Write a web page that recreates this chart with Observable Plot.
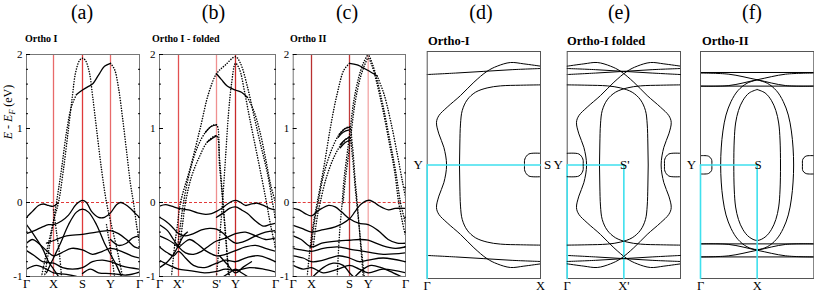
<!DOCTYPE html>
<html><head><meta charset="utf-8">
<script src="https://cdn.jsdelivr.net/npm/d3@7"></script>
<script src="https://cdn.jsdelivr.net/npm/@observablehq/plot@0.6"></script>
<style>
body{margin:0;background:#fff;}
#wrap{position:relative;width:814px;height:293px;overflow:hidden;background:#fff;font-family:"Liberation Serif","Times New Roman",serif;}
#wrap > svg, #wrap > div{position:absolute;top:0;}
</style></head><body><div id="wrap"></div>
<script>
// ---------- tick labels ----------
const energyTicks = [-1, 0, 1, 2];
const minorTicks = [-0.8,-0.6,-0.4,-0.2,0.2,0.4,0.6,0.8,1.2,1.4,1.6,1.8];
const aTicks = [0, 27, 56, 84, 113];
const aLabels = ["Γ", "X", "S", "Y", "Γ"];
const bTicks = [0, 19, 57, 76, 116];
const bLabels = ["Γ", "X'", "S'", "Y", "Γ"];
const cTicks = [0, 18.3, 56.3, 75, 112.3];
const cLabels = ["Γ", "X", "S", "Y", "Γ"];
const panelLetters = ["(a)", "(b)", "(c)", "(d)", "(e)", "(f)"];
const panelNames = ["Ortho I", "Ortho I - folded", "Ortho II", "Ortho-I", "Ortho-I folded", "Ortho-II"];

// ---------- (a) Ortho I bands [k, E (eV)] ----------
const aD1 = [[15,-1],[22,-0.55],[28,-0.2],[32,0],[37,0.45],[42,1.0],[46,1.45],[49,1.75],[53,1.92],[56,1.95],[59,1.92],[63,1.75],[66,1.45],[70,1.0],[75,0.45],[80,0],[84,-0.25],[90,-0.6],[96,-1]];
const aD2 = [[18,-1],[24,-0.5],[30,0],[35,0.45],[40,0.95],[45,1.3],[50,1.46]];
const aD3 = [[84,1.88],[88,1.8],[92,1.55],[96,1.15],[100,0.7],[104,0.25],[107,0],[110,-0.3],[113,-0.55]];
const aD4 = [[27,-0.1],[30,-0.4],[33,-0.7],[35,-1]];
const aD5 = [[80,-0.3],[83,-0.55],[86,-0.8],[88,-1]];
const aS0 = [[50,1.46],[56,1.52],[62,1.57],[66,1.6],[72,1.72],[78,1.84],[84,1.88]];
const aS1 = [[0,-0.2],[6,-0.12],[12,-0.04],[17,-0.02],[22,-0.04],[27,-0.05],[31,-0.01]];
const aS2 = [[0,-0.42],[8,-0.38],[16,-0.33],[22,-0.3],[27,-0.3],[35,-0.25],[42,-0.17],[50,-0.02],[56,0.03],[60,0.0],[65,-0.12],[72,-0.2],[78,-0.2],[84,-0.14],[90,-0.03],[94,0.0],[98,-0.02],[104,-0.08],[109,-0.15],[113,-0.2]];
const aS3 = [[20,-0.95],[27,-0.75],[34,-0.55],[42,-0.3],[50,-0.13],[56,-0.09],[62,-0.13],[70,-0.3],[78,-0.55],[84,-0.7],[90,-0.85],[95,-1]];
const aS4 = [[20,-0.55],[30,-0.5],[40,-0.45],[56,-0.43],[70,-0.4],[84,-0.38],[92,-0.42],[100,-0.5],[108,-0.6],[113,-0.62]];
const aS5 = [[0,-0.55],[6,-0.5],[12,-0.55],[20,-0.65],[27,-0.72],[35,-0.68],[45,-0.62],[56,-0.64],[66,-0.7],[76,-0.66],[84,-0.62],[95,-0.66],[105,-0.72],[113,-0.75]];
const aS6 = [[0,-0.65],[8,-0.72],[16,-0.8],[27,-0.82],[36,-0.88],[46,-0.9],[56,-0.88],[66,-0.8],[76,-0.78],[84,-0.8],[96,-0.86],[113,-0.9]];
const aS7 = [[0,-0.9],[10,-0.85],[20,-0.9],[27,-0.95],[40,-0.97],[50,-1]];
const aS8 = [[56,-0.96],[64,-0.9],[72,-0.95],[84,-0.96],[100,-0.98],[113,-0.94]];
const aS9 = [[0,-0.3],[8,-0.45],[16,-0.62],[22,-0.8],[27,-0.9],[32,-1]];
const aS10 = [[84,-0.5],[92,-0.58],[100,-0.55],[106,-0.48],[113,-0.45]];

// ---------- (b) Ortho I folded bands ----------
const bD1 = [[12,-1],[15,-0.6],[18,-0.3],[21,0],[31,0.48],[41,1.02],[49,1.47],[57,1.74],[66,1.86],[76,1.97],[81,1.88],[88,1.56],[94,1.2],[101,0.79],[108,0.39],[113,0],[116,-0.22]];
const bD2 = [[57,-1],[60,-0.5],[63,0],[66,0.6],[69,1.2],[72,1.6],[76,1.88],[80,1.8],[85,1.5],[90,1.15],[96,0.75],[102,0.35],[107,0],[111,-0.3],[116,-0.6]];
const bD3 = [[18,-0.6],[21,-0.3],[24,0],[30,0.4],[38,0.75],[46,0.95],[52,1.03],[57,1.05],[60,0.6],[63,0.1],[66,-0.4],[69,-0.9],[70,-1]];
const bD4 = [[20,-0.6],[23,-0.3],[26,0],[32,0.35],[40,0.62],[48,0.82],[57,0.9],[60,0.5],[63,0.05],[66,-0.45],[68,-0.8],[69,-1]];
const bD5 = [[88,1.42],[94,1.25],[100,0.98],[106,0.6],[111,0.25],[116,0.0]];
const bS0 = [[57,1.74],[62,1.66],[68,1.57],[76,1.52],[82,1.49],[88,1.42]];
const bS0b = [[46,0.95],[52,1.03],[57,1.05]];
const bS0c = [[48,0.82],[53,0.87],[57,0.9]];
const bS1 = [[0,-0.05],[6,-0.03],[12,-0.05],[19,-0.08],[29,-0.1],[38,-0.14],[46,-0.16],[52,-0.15],[57,-0.12],[62,-0.08],[68,-0.02],[73,0.02],[76,0.03],[80,0.01],[86,-0.04],[92,-0.02],[98,-0.01],[104,-0.04],[110,-0.08],[116,-0.1]];
const bS2 = [[57,-0.2],[64,-0.14],[70,-0.08],[76,-0.06],[82,-0.1],[88,-0.15],[96,-0.25],[104,-0.32],[110,-0.3],[116,-0.28]];
const bS4 = [[0,-0.2],[6,-0.25],[12,-0.32],[19,-0.42],[26,-0.45],[34,-0.42],[42,-0.37],[50,-0.35],[57,-0.36],[64,-0.42],[70,-0.5],[76,-0.55],[86,-0.52],[96,-0.45],[106,-0.4],[116,-0.38]];
const bS5 = [[0,-0.3],[8,-0.38],[14,-0.5],[19,-0.6],[26,-0.68],[34,-0.7],[42,-0.66],[50,-0.58],[57,-0.52],[66,-0.48],[76,-0.42],[86,-0.4],[96,-0.45],[106,-0.5],[116,-0.48]];
const bS6 = [[0,-0.45],[8,-0.5],[14,-0.55],[19,-0.6],[24,-0.55],[30,-0.5],[38,-0.56],[46,-0.65],[57,-0.72],[66,-0.7],[76,-0.65],[86,-0.6],[96,-0.58],[106,-0.62],[116,-0.66]];
const bS7 = [[0,-0.6],[8,-0.68],[14,-0.72],[19,-0.66],[26,-0.75],[34,-0.85],[45,-0.88],[57,-0.82],[66,-0.78],[76,-0.8],[88,-0.74],[100,-0.72],[116,-0.8]];
const bS8 = [[0,-0.78],[10,-0.85],[19,-0.9],[30,-0.92],[45,-0.95],[57,-0.93],[66,-0.9],[76,-0.92],[90,-0.88],[104,-0.9],[116,-0.94]];
const bS9 = [[0,-0.88],[8,-0.8],[14,-0.7],[19,-0.58],[24,-0.45],[28,-0.4]];
const bS10 = [[60,-0.72],[68,-0.84],[76,-0.95],[84,-0.87],[92,-0.8]];
const bS11 = [[64,-1],[70,-0.95],[76,-0.9],[82,-0.95],[88,-1]];

// ---------- (c) Ortho II bands ----------
const cD1 = [[14,-1],[17,-0.6],[20,-0.3],[24,0],[30.7,0.48],[37.3,1.02],[44,1.47],[50.7,1.79],[56.3,1.88]];
const cD1b = [[84,1.71],[90.7,1.47],[97.3,1.11],[104,0.66],[109,0.3],[112.3,0.07]];
const cD2 = [[44,-1],[45.5,-0.6],[47,-0.3],[49,0],[50.7,0.3],[54,0.66],[57.3,1.02],[60.7,1.38],[65.7,1.7],[70.7,1.9],[75,1.99],[79,1.88],[84,1.65],[90.7,1.25],[97.3,0.79],[102.3,0.43],[107.3,0],[110.7,-0.2],[112.3,-0.3]];
const cD2b = [[50,0],[52,0.3],[55.5,0.66],[58.5,1.0],[62,1.36],[67,1.68],[71.5,1.86],[75,1.95],[78.5,1.86],[83,1.65],[89.7,1.25],[96.3,0.79],[101.3,0.43],[105.5,0],[109,-0.25],[112.3,-0.45]];
const cD3 = [[18,-0.6],[22,-0.2],[25,0],[30,0.35],[38,0.7],[46,0.92],[52,1.0],[56.3,1.02],[59,0.8],[62,0.3],[64,0],[67,-0.5],[70,-1]];
const cD4 = [[20,-0.6],[24,-0.2],[27,0],[33,0.33],[41,0.62],[49,0.8],[56.3,0.88],[59,0.65],[62,0.2],[65,-0.2],[68,-0.6],[71,-1]];
const cS0 = [[56.3,1.88],[64,1.86],[74,1.79],[84,1.71]];
const cSp1 = [[46,0.92],[52,1.0],[56.3,1.02]];
const cSp2 = [[45,0.88],[50,0.95],[56.3,0.98]];
const cSp3 = [[47,0.78],[52,0.85],[56.3,0.88]];
const cSp4 = [[47,0.74],[52,0.81],[56.3,0.84]];
const cS1 = [[0,-0.08],[6,-0.1],[12,-0.15],[18.3,-0.18],[24,-0.12],[28.6,-0.08],[35.3,-0.04],[42,-0.06],[48.6,-0.13],[56.3,-0.22],[65.3,-0.28],[75,-0.3],[85,-0.38],[95,-0.5],[104,-0.55],[112.3,-0.55]];
const cS2 = [[0,-0.31],[8.6,-0.35],[18.3,-0.4],[28.6,-0.37],[42,-0.33],[56.3,-0.22],[62,-0.12],[68,-0.02],[75,0.03],[80,0.01],[85.3,-0.04],[95.3,-0.1],[102,-0.08],[112.3,-0.08]];
const cS3 = [[0,-0.45],[8,-0.5],[18.3,-0.6],[28.6,-0.55],[45.3,-0.52],[56.3,-0.51],[67,-0.5],[75,-0.51],[88.6,-0.58],[102,-0.62],[112.3,-0.6]];
const cS4 = [[0,-0.62],[8,-0.64],[18.3,-0.66],[30,-0.62],[45,-0.6],[56.3,-0.63],[66,-0.65],[75,-0.67],[90,-0.7],[112.3,-0.68]];
const cS5 = [[0,-0.72],[10,-0.75],[18.3,-0.8],[30,-0.78],[45,-0.72],[56.3,-0.75],[66,-0.8],[75,-0.78],[90,-0.75],[112.3,-0.8]];
const cS6 = [[0,-0.85],[10,-0.9],[18.3,-0.88],[30,-0.95],[45,-0.9],[56.3,-0.85],[66,-0.9],[75,-0.95],[90,-0.9],[112.3,-0.95]];
const cS7 = [[20,-1],[30,-0.88],[40,-0.82],[50,-0.85],[56.3,-0.95],[60,-1]];
const cS8 = [[62,-1],[70,-0.9],[78,-0.85],[88,-0.88],[100,-0.95],[108,-1]];

// ---------- (d) Ortho-I Fermi surface [kx/π, ky/π] ----------
const dTop = [[0,1.797],[0.25,1.81],[0.5,1.825],[0.75,1.84],[1,1.85]];
const dBottom = [[0,0.203],[0.25,0.19],[0.5,0.175],[0.75,0.16],[1,0.15]];
const dOuter = [[1,1.871],[0.853,1.891],[0.735,1.903],[0.618,1.871],[0.529,1.826],[0.412,1.729],[0.294,1.612],[0.176,1.509],[0.103,1.435],[0.082,1.376],[0.103,1.274],[0.147,1.156],[0.171,1.0],[0.147,0.844],[0.103,0.726],[0.082,0.624],[0.103,0.565],[0.176,0.491],[0.294,0.388],[0.412,0.271],[0.529,0.174],[0.618,0.129],[0.735,0.097],[0.853,0.109],[1,0.129]];
const dInner = [[1,1.706],[0.824,1.703],[0.647,1.697],[0.529,1.679],[0.426,1.641],[0.353,1.574],[0.309,1.479],[0.294,1.362],[0.288,1.185],[0.285,1.0],[0.288,0.815],[0.294,0.638],[0.309,0.521],[0.353,0.426],[0.426,0.359],[0.529,0.321],[0.647,0.303],[0.824,0.297],[1,0.294]];
const dPocket = [[1,1.103],[0.897,1.097],[0.862,1.053],[0.859,1.0],[0.862,0.947],[0.897,0.903],[1,0.897]];

// ---------- (f) Ortho-II Fermi surface ----------
const fFlat1 = [[0,1.815],[1,1.815]];
const fFlat2 = [[0,1.695],[1,1.695]];
const fCross1 = [[0,1.81],[0.25,1.8],[0.5,1.751],[0.75,1.7],[1,1.695]];
const fCross2 = [[0,1.695],[0.25,1.7],[0.5,1.751],[0.75,1.8],[1,1.81]];
const fFlat3 = [[0,0.305],[1,0.305]];
const fFlat4 = [[0,0.19],[1,0.19]];
const fCross3 = [[0,0.19],[0.25,0.2],[0.5,0.249],[0.75,0.3],[1,0.305]];
const fCross4 = [[0,0.305],[0.25,0.3],[0.5,0.249],[0.75,0.2],[1,0.19]];
const fOuter = [[0.5,1.75],[0.41,1.72],[0.33,1.655],[0.27,1.56],[0.225,1.44],[0.198,1.3],[0.183,1.15],[0.178,1.0],[0.183,0.85],[0.198,0.7],[0.225,0.56],[0.27,0.44],[0.33,0.345],[0.41,0.28],[0.5,0.255],[0.59,0.28],[0.67,0.345],[0.73,0.44],[0.775,0.56],[0.802,0.7],[0.817,0.85],[0.822,1.0],[0.817,1.15],[0.802,1.3],[0.775,1.44],[0.73,1.56],[0.67,1.655],[0.59,1.72],[0.5,1.75]];
const fInner = [[0.5,1.665],[0.43,1.635],[0.375,1.57],[0.335,1.48],[0.31,1.37],[0.298,1.22],[0.294,1.0],[0.298,0.78],[0.31,0.63],[0.335,0.52],[0.375,0.43],[0.43,0.365],[0.5,0.335],[0.57,0.365],[0.625,0.43],[0.665,0.52],[0.69,0.63],[0.702,0.78],[0.706,1.0],[0.702,1.22],[0.69,1.37],[0.665,1.48],[0.625,1.57],[0.57,1.635],[0.5,1.665]];
const fPocketL = [[0,1.082],[0.07,1.078],[0.097,1.05],[0.1,1.0],[0.097,0.95],[0.07,0.925],[0,0.921]];
const fPocketR = [[1,1.082],[0.93,1.078],[0.903,1.05],[0.9,1.0],[0.903,0.95],[0.93,0.925],[1,0.921]];

// high-symmetry paths (cyan) and point labels
const dPath = [[[0,1],[1,1]], [[0,0],[0,1]]];
const ePath = [[[0,1],[0.5,1],[0.5,0]], [[0,0],[0,1]]];
const dTicks = [0, 1], dTickLabels = ["Γ", "X"];
const eTicks = [0, 0.5], eTickLabels = ["Γ", "X'"];
const fTickLabels = ["Γ", "X"];
const dPoints = [{name:"Y", kx:0, ky:1, side:"left"}, {name:"S", kx:1, ky:1, side:"right"}];
const ePoints = [{name:"Y", kx:0, ky:1, side:"left"}, {name:"S'", kx:0.5, ky:1, side:"center"}];
const fPoints = [{name:"Y", kx:0, ky:1, side:"left"}, {name:"S", kx:0.5, ky:1, side:"center"}];

// ---------- drawing ----------
const wrap = document.getElementById("wrap");
const FONT = "Liberation Serif, Times New Roman, serif";

function place(el, left) { el.style.left = left + "px"; el.style.position = "absolute"; el.style.top = "0px"; wrap.appendChild(el); }

function bandPanel(o) {
  const fmt = d => o.labels[o.ticks.indexOf(d)];
  const inner = o.ticks.slice(1, -1);
  const dotOpts = {stroke:"#000", strokeWidth:1.5, strokeDasharray:"0.1,2.5", strokeLinecap:"round", curve:"catmull-rom", clip:true};
  const solOpts = {stroke:"#000", strokeWidth:1.3, curve:"catmull-rom", clip:true};
  return Plot.plot({
    width: o.width, height: 293,
    marginLeft: o.ml, marginRight: o.mr, marginTop: 54, marginBottom: 17,
    x: {domain: [0, o.ticks[o.ticks.length - 1]]},
    y: {domain: [-1, 2]},
    style: {background: "transparent", overflow: "visible", fontFamily: FONT, color: "#000"},
    marks: [
      Plot.ruleY([0], {stroke: "#e23a3a", strokeWidth: 1, strokeDasharray: "3,2"}),
      ...inner.map((k, i) => Plot.ruleX([k], {stroke: o.ruleColors[i], strokeWidth: 1.3})),
      ...o.dotted.map(b => Plot.line(b, dotOpts)),
      ...o.solid.map(b => Plot.line(b, solOpts)),
      Plot.frame({stroke: "#777", strokeWidth: 1}),
      Plot.axisX({ticks: o.ticks, tickFormat: fmt, tickSize: 0, tickPadding: 3, fontSize: 12.5, label: null}),
      Plot.axisY({ticks: energyTicks, tickFormat: d => String(d), tickSize: 0, tickPadding: 4, fontSize: 11, label: null}),
      Plot.axisY({ticks: energyTicks, tickFormat: () => "", tickSize: -4, label: null}),
      Plot.axisY({ticks: minorTicks, tickFormat: () => "", tickSize: -2, label: null}),
      Plot.axisY({anchor: "right", ticks: minorTicks, tickFormat: () => "", tickSize: -2, label: null})
    ]
  });
}

function fsPanel(o) {
  const fmt = d => o.tickLabels[o.ticks.indexOf(d)];
  const lineOpts = {stroke: "#000", strokeWidth: 1, curve: "catmull-rom"};
  const marks = o.overlay ? o.curves.map(c => Plot.line(c, lineOpts)) : [
    ...o.curves.map(c => Plot.line(c, lineOpts)),
    Plot.frame({stroke: "#555", strokeWidth: 1}),
    ...o.path.map(p => Plot.line(p, {stroke: "#3fe0ee", strokeWidth: 1.6})),
    Plot.axisX({ticks: o.ticks, tickFormat: fmt, tickSize: 0, tickPadding: 3, fontSize: 12.5, label: null}),
    Plot.text(o.points.filter(p => p.side === "left"), {x: "kx", y: "ky", text: "name", dx: -9, fontSize: 13}),
    Plot.text(o.points.filter(p => p.side === "right"), {x: "kx", y: "ky", text: "name", dx: 7, fontSize: 13}),
    Plot.text(o.points.filter(p => p.side === "center"), {x: "kx", y: "ky", text: "name", dx: 1, fontSize: 13})
  ];
  return Plot.plot({
    width: o.width, height: 293,
    marginLeft: o.ml, marginRight: o.mr, marginTop: 51, marginBottom: 15,
    x: {domain: [0, 1], reverse: !!o.reverse, axis: o.overlay ? null : undefined},
    y: {domain: [0, 2], axis: null},
    style: {background: "transparent", overflow: "visible", fontFamily: FONT, color: "#000"},
    marks
  });
}

place(bandPanel({width: 145, ml: 26, mr: 6, ticks: aTicks, labels: aLabels,
  ruleColors: ["#e86a6a", "#e03a3a", "#e86a6a"],
  dotted: [aD1, aD2, aD3, aD4, aD5],
  solid: [aS0, aS1, aS2, aS3, aS4, aS5, aS6, aS7, aS8, aS9, aS10]}), 0);

place(bandPanel({width: 140, ml: 19, mr: 5, ticks: bTicks, labels: bLabels,
  ruleColors: ["#e25050", "#ef9090", "#c82a2a"],
  dotted: [bD1, bD2, bD3, bD4, bD5],
  solid: [bS0, bS0b, bS0c, bS1, bS2, bS4, bS5, bS6, bS7, bS8, bS9, bS10, bS11]}), 140);

place(bandPanel({width: 135, ml: 17.7, mr: 5, ticks: cTicks, labels: cLabels,
  ruleColors: ["#b83030", "#c03a3a", "#f2a6a6"],
  dotted: [cD1, cD1b, cD2, cD2b, cD3, cD4],
  solid: [cS0, cSp1, cSp2, cSp3, cSp4, cS1, cS2, cS3, cS4, cS5, cS6, cS7, cS8]}), 275);

const dCurves = [dTop, dBottom, dOuter, dInner, dPocket];
place(fsPanel({width: 140, ml: 16.7, mr: 10, curves: dCurves, path: dPath, ticks: dTicks, tickLabels: dTickLabels, points: dPoints}), 410);
place(fsPanel({width: 137, ml: 16.7, mr: 7, curves: dCurves, path: ePath, ticks: eTicks, tickLabels: eTickLabels, points: ePoints}), 550);
place(fsPanel({width: 137, ml: 16.7, mr: 7, curves: dCurves, overlay: true, reverse: true}), 550);
place(fsPanel({width: 134, ml: 20, mr: 0.7,
  curves: [fFlat1, fFlat2, fCross1, fCross2, fFlat3, fFlat4, fCross3, fCross4, fOuter, fInner, fPocketL, fPocketR],
  path: ePath, ticks: eTicks, tickLabels: fTickLabels, points: fPoints}), 680);

// ---------- titles & axis label ----------
const letterX = [82, 213.5, 347, 481, 619, 752];
const nameX = [25, 152, 290, 428, 567, 702];
let s = `<svg width="814" height="293" xmlns="http://www.w3.org/2000/svg" style="position:absolute;left:0;top:0;font-family:${FONT}">`;
panelLetters.forEach((t, i) => { s += `<text x="${letterX[i]}" y="19" font-size="20" text-anchor="middle">${t}</text>`; });
panelNames.forEach((t, i) => {
  const big = i >= 3;
  s += `<text x="${nameX[i]}" y="${big ? 44.5 : 42}" font-size="${big ? 12.5 : 10}" font-weight="bold">${t}</text>`;
});
s += `<text transform="translate(12,112) rotate(-90)" font-size="12" text-anchor="middle"><tspan font-style="italic">E</tspan> - <tspan font-style="italic">E</tspan><tspan font-style="italic" font-size="8" dy="3">F</tspan><tspan dy="-3"> (eV)</tspan></text>`;
s += `</svg>`;
const ov = document.createElement("div");
ov.innerHTML = s;
ov.style.left = "0px"; ov.style.width = "814px"; ov.style.height = "293px"; ov.style.pointerEvents = "none";
wrap.appendChild(ov);
</script></body></html>
